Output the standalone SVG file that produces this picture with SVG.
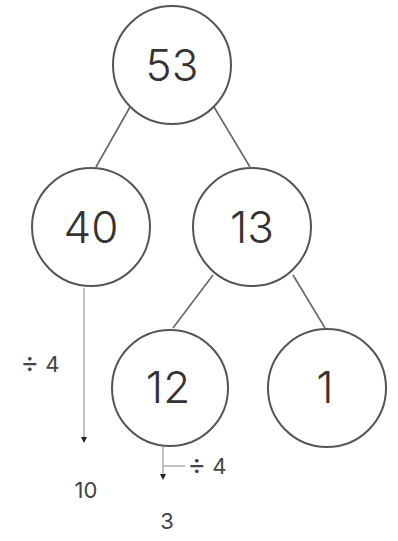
<svg xmlns="http://www.w3.org/2000/svg" width="398" height="541" viewBox="0 0 398 541">
<defs>
<marker id="dot" viewBox="0 0 6 6" refX="3" refY="3" markerWidth="6" markerHeight="6" markerUnits="userSpaceOnUse" orient="auto">
<path d="M0,0 L6,3 L0,6 Z" fill="#222"/>
</marker>
<style>
.node circle{fill:#fff;stroke:#555;stroke-width:2}
.node text{font-family:Inter,"Liberation Sans",sans-serif;font-weight:300;font-size:44px;fill:#333;text-anchor:middle}
.edge{stroke:#666;stroke-width:1.6;fill:none}
.drop{stroke:#999;stroke-width:1.2;fill:none}
.lbl{font-family:Inter,"Liberation Sans",sans-serif;font-weight:400;font-size:22px;fill:#444;text-anchor:middle}
</style>
</defs>
<rect width="398" height="541" fill="#fff"/>
<g id="connectors">
<line class="edge" x1="130" y1="107" x2="96" y2="167"/>
<line class="edge" x1="214" y1="107" x2="250" y2="167"/>
<line class="edge" x1="213" y1="275" x2="173" y2="328"/>
<line class="edge" x1="293" y1="275" x2="325" y2="328"/>
<line class="drop" x1="84" y1="288" x2="84" y2="440" marker-end="url(#dot)"/>
<line class="drop" x1="163" y1="447" x2="163" y2="477" marker-end="url(#dot)"/>
<line class="drop" x1="163" y1="466" x2="185" y2="466"/>
</g>
<g id="n53" class="node"><circle cx="172" cy="65" r="59"/><text x="172" y="81">53</text></g>
<g id="n40" class="node"><circle cx="91" cy="227" r="59"/><text x="91" y="243">40</text></g>
<g id="n13" class="node"><circle cx="252" cy="227" r="59"/><text x="252" y="243">13</text></g>
<g id="n12" class="node"><circle cx="170" cy="388" r="58"/><text x="168" y="403">12</text></g>
<g id="n1" class="node"><circle cx="327" cy="388" r="59"/><text x="325" y="403">1</text></g>
<g id="labels">
<text class="lbl" x="40" y="372"><tspan font-size="28">÷</tspan> 4</text>
<text class="lbl" x="86" y="498">10</text>
<text class="lbl" x="207" y="474"><tspan font-size="28">÷</tspan> 4</text>
<text class="lbl" x="167" y="529">3</text>
</g>
</svg>
